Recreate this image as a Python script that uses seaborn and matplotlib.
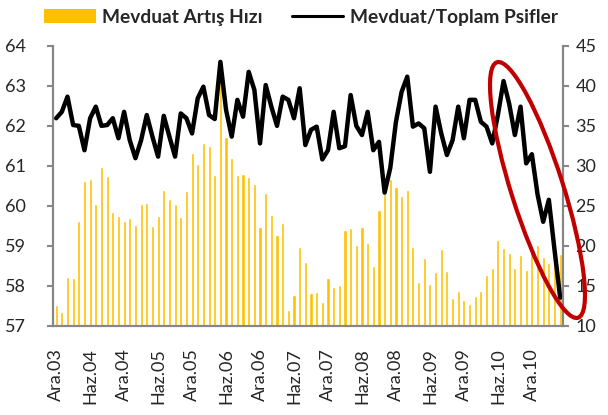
import numpy as np
import matplotlib
matplotlib.use("Agg")
import matplotlib.pyplot as plt
import seaborn as sns
from matplotlib.patches import Ellipse, Patch
from matplotlib.lines import Line2D
from matplotlib.transforms import IdentityTransform

sns.set_style("white")
plt.rcParams['font.family'] = ['Lato', 'DejaVu Sans']

# monthly series, Ara.03 .. May.11
month_names = ['Oca', 'Şub', 'Mar', 'Nis', 'May', 'Haz',
               'Tem', 'Ağu', 'Eyl', 'Eki', 'Kas', 'Ara']
start_year, start_month = 2003, 12
n_months = 90

# Mevduat Artış Hızı (%), right axis
deposit_growth = [
    12.6, 11.7, 16.1, 16.0, 23.1, 28.1, 28.3, 25.2, 29.8, 28.7,
    24.2, 23.7, 23.1, 23.5, 22.6, 25.2, 25.3, 22.5, 23.7, 27.0,
    25.8, 25.2, 23.6, 26.8, 31.6, 30.2, 32.8, 32.5, 28.9, 40.3,
    33.6, 31.0, 28.9, 29.0, 28.6, 27.7, 22.3, 26.6, 23.8, 21.3,
    22.8, 12.0, 13.8, 19.8, 18.0, 14.1, 14.2, 13.0, 16.0, 14.8,
    15.1, 22.0, 22.2, 20.1, 22.3, 20.3, 17.5, 24.5, 26.5, 28.3,
    27.3, 26.2, 27.0, 19.8, 15.5, 18.5, 15.2, 16.7, 19.6, 16.8,
    13.5, 14.3, 13.2, 12.7, 13.7, 14.3, 16.3, 17.2, 20.7, 19.7,
    19.1, 17.2, 18.8, 17.0, 20.0, 20.1, 18.6, 17.8, 18.0, 19.0,
]

# Mevduat/Toplam Pasifler (%), left axis
deposit_share = [
    62.19, 62.35, 62.73, 62.02, 62.00, 61.39, 62.19, 62.48, 62.00, 62.02,
    62.19, 61.69, 62.35, 61.64, 61.19, 61.64, 62.27, 61.73, 61.23, 62.25,
    61.73, 61.23, 62.31, 62.19, 61.81, 62.69, 62.98, 62.27, 62.17, 63.60,
    62.40, 61.73, 62.65, 62.23, 63.35, 62.90, 61.56, 63.02, 62.48, 62.00,
    62.73, 62.65, 62.19, 62.94, 61.52, 61.90, 61.98, 61.16, 61.39, 62.35,
    61.44, 61.49, 62.77, 62.00, 61.77, 62.35, 61.39, 61.60, 60.33, 60.95,
    62.10, 62.85, 63.23, 61.98, 62.06, 61.94, 60.85, 62.48, 61.81, 61.27,
    61.64, 62.48, 61.69, 62.65, 62.65, 62.10, 61.98, 61.56, 62.27, 63.12,
    62.55, 61.77, 62.48, 61.06, 61.29, 60.29, 59.60, 60.15, 58.90, 57.70,
]

labels = []
for k in range(n_months):
    m = (start_month - 1 + k) % 12
    y = start_year + (start_month - 1 + k) // 12
    labels.append(f"{month_names[m]}.{y % 100:02d}")

bar_color = '#FFC000'
axis_grey = '#868686'

fig = plt.figure(figsize=(6.08, 4.15), dpi=100)
ax = fig.add_axes([0.0877, 0.2152, 0.8383, 0.6742])

sns.barplot(x=labels, y=deposit_growth, order=labels, color=bar_color,
            width=0.55, saturation=1, ax=ax)
ax.set_ylim(10, 45)
ax.set_yticks(np.arange(10, 46, 5))
ax.yaxis.tick_right()

ax2 = ax.twinx()
sns.lineplot(x=np.arange(n_months), y=deposit_share, color='black',
             linewidth=3.2, ax=ax2)
ax2.set_ylim(57, 64)
ax2.set_yticks(np.arange(57, 65, 1))
ax2.yaxis.tick_left()
ax2.yaxis.set_label_position('left')

ax.set_xlim(-0.5, n_months - 0.5)
ax.set_xticks(np.arange(-0.5, n_months, 6))
ax.set_xticklabels([])
ax.set_xticks(np.arange(0, n_months, 6), minor=True)
ax.set_xticklabels(labels[::6], minor=True, rotation=90, fontsize=13)
ax.tick_params(axis='x', which='major', length=5, width=1.5,
               color=axis_grey, direction='out')
ax.tick_params(axis='x', which='minor', length=0, pad=16.5)
ax.tick_params(axis='y', length=4, width=1.5, color=axis_grey,
               labelsize=13, pad=5, right=True, left=False,
               labelright=True, labelleft=False)
ax2.tick_params(axis='y', length=4, width=1.5, color=axis_grey,
                labelsize=13, pad=16, left=True, right=False,
                labelleft=True, labelright=False)

for a in (ax, ax2):
    a.set_xlabel('')
    a.set_ylabel('')
    a.spines['top'].set_visible(False)
    for s in ('left', 'right', 'bottom'):
        a.spines[s].set_color(axis_grey)
        a.spines[s].set_linewidth(1.5)
    a.grid(False)

# red highlight ellipse (pixel coordinates)
ell = Ellipse((537.5, 225), 52, 268, angle=17.6, fill=False,
              edgecolor='#C00000', linewidth=3, transform=IdentityTransform(),
              clip_on=False, zorder=10)
fig.patches.append(ell)

handles = [Patch(facecolor=bar_color, edgecolor='none'),
           Line2D([], [], color='black', linewidth=2.2)]
leg = fig.legend(handles, ['Mevduat Artış Hızı', 'Mevduat/Toplam Psifler'],
                 loc='center', bbox_to_anchor=(0.495, 0.959), ncol=2,
                 frameon=False, handlelength=2.7, handletextpad=0.35,
                 columnspacing=1.5, prop={'weight': 'bold', 'size': 13.8})

fig.savefig('out.png', dpi=100)
